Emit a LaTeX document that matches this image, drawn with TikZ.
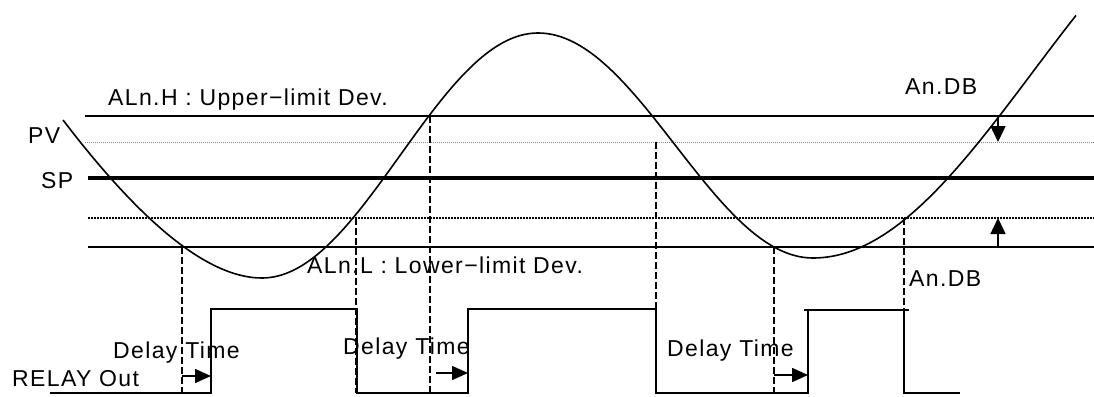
\documentclass[tikz,border=0pt]{standalone}
\usepackage{fontspec}
\usetikzlibrary{arrows.meta}
\newfontfamily\lab{Liberation Sans}[LetterSpace=6.0]
\begin{document}
\begin{tikzpicture}[x=1pt,y=-1pt,
  lbl/.style={anchor=base west,inner sep=0pt,font=\lab\fontsize{23}{25}\selectfont},
  limitline/.style={line width=1.6pt},
  spline/.style={line width=3.4pt},
  greydot/.style={line width=0.9pt,draw=black!45,dash pattern=on 1pt off 1pt},
  blackdot/.style={line width=1.2pt,dash pattern=on 1.5pt off 1.5pt},
  pvcurve/.style={line width=1.6pt},
  relay/.style={line width=1.6pt},
  guide/.style={line width=1.4pt,dash pattern=on 6.5pt off 3.5pt},
  delayarrow/.style={line width=1.5pt,-{Triangle[length=16pt,width=14pt]}},
  dbarrow/.style={line width=1.5pt,-{Triangle[length=16pt,width=15pt]}}]
\useasboundingbox (0,0) rectangle (1094,396);
% horizontal reference lines
\coordinate (hL) at (85,116);   \coordinate (hR) at (1094,116);
\coordinate (pL) at (85,142);   \coordinate (pR) at (1094,142);
\coordinate (sL) at (88,178);   \coordinate (sR) at (1094,178);
\coordinate (dL) at (88,218);   \coordinate (dR) at (1094,218);
\coordinate (lL) at (88,247);   \coordinate (lR) at (1094,247);
\draw[limitline] (hL) -- (hR);
\draw[greydot] (pL) -- (pR);
\draw[spline] (sL) -- (sR);
\draw[blackdot] (dL) -- (dR);
\draw[limitline] (lL) -- (lR);
% PV curve
\coordinate (c0) at (63,120);
\coordinate (c1) at (262,278);
\draw[pvcurve] (c0) .. controls (128,205) and (200,278) .. (c1);
\draw[pvcurve] plot[domain=262:538,samples=80] (\x,{278-245*(1-cos(0.652174*(\x-262)))/2});
\draw[pvcurve] plot[domain=538:813,samples=80] (\x,{33+225*(1-cos(0.654545*(\x-538)))/2});
\draw[pvcurve] plot[domain=813:1076,samples=80] (\x,{258-372.6*(1-cos(0.409091*(\x-813)))/2});
% relay output
\coordinate (r0) at (50,393);
\coordinate (r1) at (211,393);  \coordinate (r2) at (211,309);
\coordinate (r3) at (357,309);  \coordinate (r4) at (357,393);
\coordinate (r5) at (468,393);  \coordinate (r6) at (468,309);
\coordinate (r7) at (656,309);  \coordinate (r8) at (656,393);
\coordinate (r9) at (808,393);  \coordinate (r10) at (808,310);
\coordinate (r11) at (904,310); \coordinate (r12) at (904,393);
\coordinate (r13) at (960,393);
\draw[relay] (r0) -- (r1) -- (r2) -- (r3) -- (r4) -- (r5) -- (r6) -- (r7) -- (r8) -- (r9) -- (r10) -- (r11) -- (r12) -- (r13);
\coordinate (t1) at (804,310); \coordinate (t2) at (909,310);
\draw[line width=1.2pt] (t1) -- (t2);
% dashed guides
\coordinate (g1a) at (182,247); \coordinate (g1b) at (182,393);
\coordinate (g2a) at (356,218); \coordinate (g2b) at (356,393);
\coordinate (g3a) at (430,116); \coordinate (g3b) at (430,393);
\coordinate (g4a) at (656,142); \coordinate (g4b) at (656,393);
\coordinate (g5a) at (774,247); \coordinate (g5b) at (774,393);
\coordinate (g6a) at (904,218); \coordinate (g6b) at (904,393);
\foreach \g in {1,...,6} {\draw[guide] (g\g a) -- (g\g b);}
% delay arrows
\coordinate (a1s) at (182,376); \coordinate (a1e) at (211,376);
\coordinate (a2s) at (436,373); \coordinate (a2e) at (468,373);
\coordinate (a3s) at (774,375); \coordinate (a3e) at (808,375);
\draw[delayarrow] (a1s) -- (a1e);
\draw[delayarrow] (a2s) -- (a2e);
\draw[delayarrow] (a3s) -- (a3e);
% dead band arrows
\coordinate (b1s) at (998,116); \coordinate (b1e) at (998,142);
\coordinate (b2s) at (998,247); \coordinate (b2e) at (998,218);
\draw[dbarrow] (b1s) -- (b1e);
\draw[dbarrow] (b2s) -- (b2e);
% labels
\node[lbl] (alnh) at (108,105) {ALn.H : Upper{\char"2212}limit Dev.};
\node[lbl] (dbu) at (905,94) {An.DB};
\node[lbl] (pv) at (28,143) {PV};
\node[lbl] (sp) at (41,188) {SP};
\node[lbl] (alnl) at (307,273) {ALn.L : Lower{\char"2212}limit Dev.};
\node[lbl] (dbl) at (909,286) {An.DB};
\node[lbl] (dt1) at (113,358) {Delay Time};
\node[lbl] (dt2) at (343,354) {Delay Time};
\node[lbl] (dt3) at (667,356) {Delay Time};
\node[lbl] (ro) at (12,386) {RELAY Out};
\end{tikzpicture}
\end{document}
